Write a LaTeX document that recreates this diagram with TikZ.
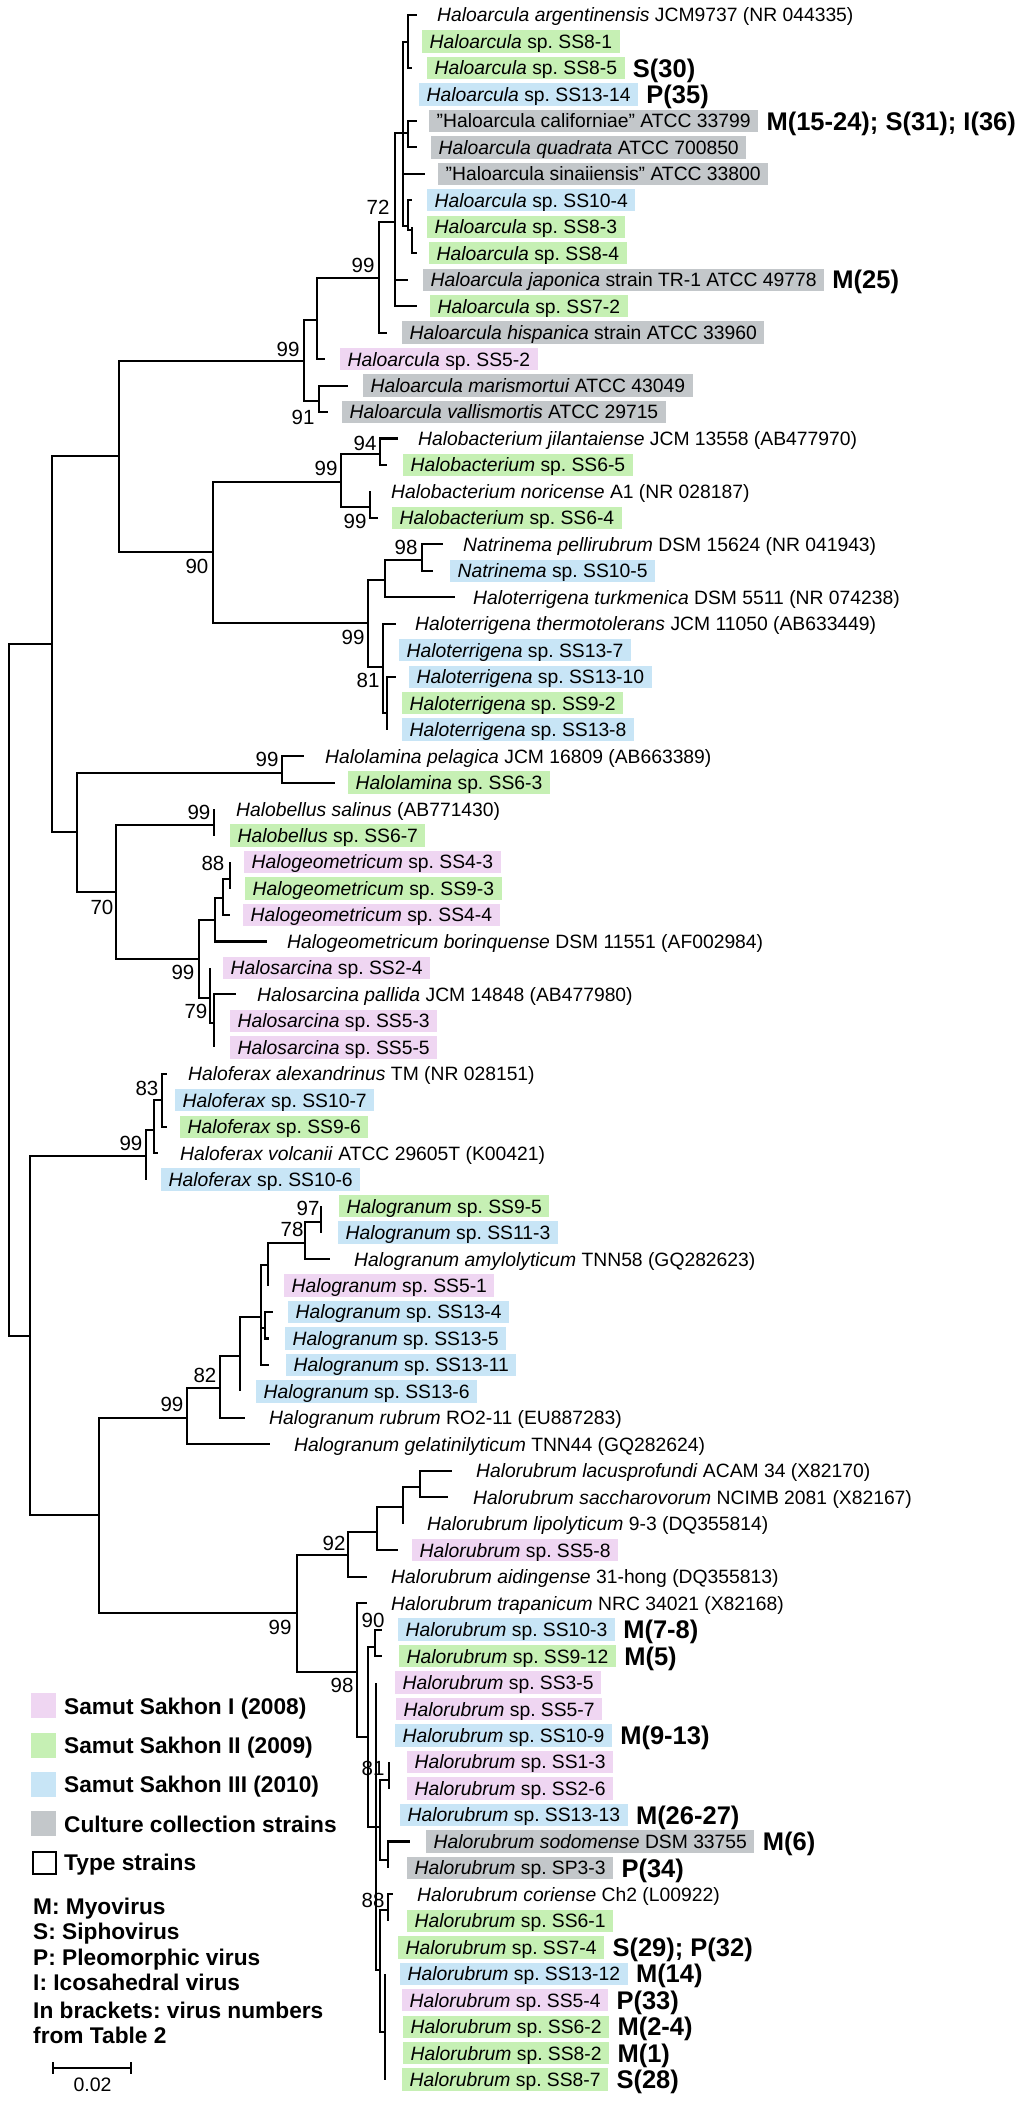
\documentclass[tikz,border=0pt]{standalone}
\usepackage{fontspec}
\setmainfont{Liberation Sans}
\frenchspacing
\definecolor{cpink}{RGB}{239,214,242}
\definecolor{cgreen}{RGB}{198,240,180}
\definecolor{cblue}{RGB}{200,229,246}
\definecolor{cgray}{RGB}{195,199,202}
\newcommand{\Y}[1]{15+26.47*#1}
\tikzset{
  br/.style={line width=2.1pt},
  lab/.style={anchor=west, font=\fontsize{19.3}{20}\selectfont, text height=13.8pt, text depth=0pt, inner ysep=4.3pt, inner xsep=0pt},
  boxlab/.style={lab, inner xsep=7.5pt},
  pnk/.style={boxlab, fill=cpink},
  grn/.style={boxlab, fill=cgreen},
  blu/.style={boxlab, fill=cblue},
  gry/.style={boxlab, fill=cgray},
  pln/.style={lab},
  boot/.style={font=\fontsize{20.5}{21}\selectfont, text height=14.7pt, text depth=0pt, inner sep=0pt},
  vir/.style={anchor=west, font=\bfseries\fontsize{25.5}{26}\selectfont, text height=18.3pt, text depth=0pt, inner sep=0pt},
  leg/.style={anchor=west, font=\bfseries\fontsize{22.7}{23}\selectfont, text height=16.2pt, text depth=0pt, inner sep=0pt},
  keybox/.style={anchor=north west, minimum width=25pt, minimum height=24.5pt, inner sep=0pt},
}
\begin{document}
\begin{tikzpicture}[x=1pt,y=-1pt]
\useasboundingbox (0,0) rectangle (1024,2103);
% ---------- internal nodes ----------
\coordinate (R) at (9,990);
\coordinate (nA) at (52,644);
\coordinate (nB) at (30,1336);
\coordinate (nA1) at (119,456);
\coordinate (nA2) at (77,832);
\coordinate (nHa) at (304,361);
\coordinate (nHa2) at (317,320);
\coordinate (n99a) at (379,278);
\coordinate (n72) at (395,222);
\coordinate (crown) at (403,133);
\coordinate (cT) at (408,42);
\coordinate (cCQ) at (408,133);
\coordinate (c3) at (408,226);
\coordinate (c3b) at (412,230);
\coordinate (n91) at (319,401);
\coordinate (nN90) at (213,552);
\coordinate (nHb) at (341,482);
\coordinate (n94) at (380,454);
\coordinate (n99b) at (370,507);
\coordinate (nT99) at (368,623);
\coordinate (nT1) at (385,580);
\coordinate (n98) at (422,560);
\coordinate (nT81p) at (383,667);
\coordinate (n81) at (387,713);
\coordinate (nLam) at (282,773);
\coordinate (n70) at (116,892);
\coordinate (nBel) at (214,825);
\coordinate (nGeo) at (199,959);
\coordinate (nG1) at (215,920);
\coordinate (nG2) at (223,898);
\coordinate (n88) at (230,879);
\coordinate (n79) at (210,998);
\coordinate (n79b) at (214,1023);
\coordinate (nFer) at (146,1156);
\coordinate (nF2) at (154,1130);
\coordinate (n83) at (162,1100);
\coordinate (nC) at (99,1515);
\coordinate (nGr) at (187,1418);
\coordinate (n82) at (220,1388);
\coordinate (nG3) at (240,1356);
\coordinate (nG4) at (261,1317);
\coordinate (nG5) at (268,1265);
\coordinate (n78) at (305,1243);
\coordinate (n97) at (321,1222);
\coordinate (nG6) at (265,1328);
\coordinate (nRub) at (297,1613);
\coordinate (n92) at (348,1555);
\coordinate (nR1) at (377,1532);
\coordinate (nR2) at (403,1507);
\coordinate (nR3) at (420,1487);
\coordinate (n98r) at (357,1672);
\coordinate (nR4) at (368,1737);
\coordinate (n90r) at (375,1647);
\coordinate (nR6) at (376,1827);
\coordinate (nR5) at (380,1827);
\coordinate (n81r) at (389,1780);
\coordinate (nSod) at (388,1860);
\coordinate (nR7) at (380,1970);
\coordinate (n88r) at (388,1910);
\coordinate (nR8) at (385,2032);
% ---------- tips ----------
\foreach \i/\x in {0/417,1/408,2/412,3/403,4/417,5/417,6/425,7/412,8/412,9/417,10/408,11/417,12/387,13/325,14/348,15/328,16/398,17/387,18/370,19/378,20/443,21/433,22/455,23/396,24/383,25/396,26/387,27/387,28/304,29/335,30/214,31/214,32/230,33/230,34/230,35/267,36/210,37/236,38/214,39/214,40/167,41/162,42/167,43/158,44/146,45/321,46/321,47/330,48/268,49/273,50/269,51/269,52/240,53/245,54/270,55/452,56/448,57/403,58/398,59/367,60/367,61/382,62/382,63/376,64/376,65/376,66/389,67/389,68/380,69/410,70/388,71/393,72/388,73/380,74/385,75/385,76/385,77/385,78/385}
  \coordinate (t\i) at (\x,{\Y{\i}});
% ---------- branches ----------
\foreach \p/\c in {R/nA,R/nB,nA/nA1,nA/nA2,nA1/nHa,nA1/nN90,nHa/nHa2,nHa/n91,nHa2/n99a,nHa2/t13,
  n99a/n72,n99a/t12,n72/crown,n72/t10,n72/t11,crown/cT,crown/t3,crown/cCQ,crown/t6,crown/c3,
  cT/t0,cT/t1,cT/t2,cCQ/t4,cCQ/t5,c3/t7,c3/c3b,c3b/t8,c3b/t9,n91/t14,n91/t15,
  nN90/nHb,nN90/nT99,nHb/n94,nHb/n99b,n94/t16,n94/t17,n99b/t18,n99b/t19,
  nT99/nT1,nT99/nT81p,nT1/n98,nT1/t22,n98/t20,n98/t21,nT81p/t23,nT81p/t24,nT81p/n81,
  n81/t25,n81/t26,n81/t27,nA2/nLam,nA2/n70,nLam/t28,nLam/t29,n70/nBel,n70/nGeo,
  nBel/t30,nBel/t31,nGeo/nG1,nGeo/n79,nG1/nG2,nG1/t35,nG2/n88,nG2/t34,n88/t32,n88/t33,
  n79/t36,n79/n79b,n79b/t37,n79b/t38,n79b/t39,nB/nFer,nB/nC,nFer/nF2,nFer/t44,nF2/n83,nF2/t43,
  n83/t40,n83/t41,n83/t42,nC/nGr,nC/nRub,nGr/n82,nGr/t54,n82/nG3,n82/t53,nG3/nG4,nG3/t52,
  nG4/nG5,nG4/nG6,nG4/t51,nG5/n78,nG5/t48,n78/n97,n78/t47,n97/t45,n97/t46,nG6/t49,nG6/t50,
  nRub/n92,nRub/n98r,n92/nR1,n92/t59,nR1/nR2,nR1/t58,nR2/nR3,nR2/t57,nR3/t55,nR3/t56,
  n98r/t60,n98r/nR4,nR4/n90r,nR4/nR6,n90r/t61,n90r/t62,nR6/t63,nR6/t64,nR6/t65,nR6/nR5,nR6/nR7,
  nR5/n81r,nR5/t68,nR5/nSod,n81r/t66,n81r/t67,nSod/t69,nSod/t70,nR7/n88r,nR7/t73,nR7/nR8,
  n88r/t71,n88r/t72,nR8/t74,nR8/t75,nR8/t76,nR8/t77,nR8/t78}
  \draw[br] (\p) |- (\c);
% ---------- bootstrap values ----------
\node[boot] (b1) at (378,207) {72};
\node[boot] (b2) at (363,265) {99};
\node[boot] (b3) at (288,349) {99};
\node[boot] (b4) at (303,417) {91};
\node[boot] (b5) at (365,443) {94};
\node[boot] (b6) at (326,468) {99};
\node[boot] (b7) at (355,521) {99};
\node[boot] (b8) at (197,566) {90};
\node[boot] (b9) at (406,547) {98};
\node[boot] (b10) at (353,637) {99};
\node[boot] (b11) at (368,680) {81};
\node[boot] (b12) at (267,759) {99};
\node[boot] (b13) at (199,812) {99};
\node[boot] (b14) at (213,863) {88};
\node[boot] (b15) at (102,907) {70};
\node[boot] (b16) at (183,972) {99};
\node[boot] (b17) at (196,1011) {79};
\node[boot] (b18) at (147,1088) {83};
\node[boot] (b19) at (131,1143) {99};
\node[boot] (b20) at (308,1208) {97};
\node[boot] (b21) at (292,1229) {78};
\node[boot] (b22) at (205,1375) {82};
\node[boot] (b23) at (172,1404) {99};
\node[boot] (b24) at (334,1543) {92};
\node[boot] (b25) at (280,1627) {99};
\node[boot] (b26) at (373,1620) {90};
\node[boot] (b27) at (342,1685) {98};
\node[boot] (b28) at (373,1768) {81};
\node[boot] (b29) at (373,1900) {88};
% ---------- taxon labels ----------
\node[pln] (L0) at (437,{\Y{0}}) {\textit{Haloarcula argentinensis} JCM9737 (NR 044335)};
\node[grn] (L1) at (422,{\Y{1}}) {\textit{Haloarcula} sp. SS8-1};
\node[grn] (L2) at (427,{\Y{2}}) {\textit{Haloarcula} sp. SS8-5};
\node[blu] (L3) at (419,{\Y{3}}) {\textit{Haloarcula} sp. SS13-14};
\node[gry] (L4) at (429,{\Y{4}}) {”Haloarcula californiae” ATCC 33799};
\node[gry] (L5) at (431,{\Y{5}}) {\textit{Haloarcula quadrata} ATCC 700850};
\node[gry] (L6) at (438,{\Y{6}}) {”Haloarcula sinaiiensis” ATCC 33800};
\node[blu] (L7) at (427,{\Y{7}}) {\textit{Haloarcula} sp. SS10-4};
\node[grn] (L8) at (427,{\Y{8}}) {\textit{Haloarcula} sp. SS8-3};
\node[grn] (L9) at (429,{\Y{9}}) {\textit{Haloarcula} sp. SS8-4};
\node[gry] (L10) at (423,{\Y{10}}) {\textit{Haloarcula japonica} strain TR-1 ATCC 49778};
\node[grn] (L11) at (430,{\Y{11}}) {\textit{Haloarcula} sp. SS7-2};
\node[gry] (L12) at (402,{\Y{12}}) {\textit{Haloarcula hispanica} strain ATCC 33960};
\node[pnk] (L13) at (340,{\Y{13}}) {\textit{Haloarcula} sp. SS5-2};
\node[gry] (L14) at (363,{\Y{14}}) {\textit{Haloarcula marismortui} ATCC 43049};
\node[gry] (L15) at (342,{\Y{15}}) {\textit{Haloarcula vallismortis} ATCC 29715};
\node[pln] (L16) at (418,{\Y{16}}) {\textit{Halobacterium jilantaiense} JCM 13558 (AB477970)};
\node[grn] (L17) at (403,{\Y{17}}) {\textit{Halobacterium} sp. SS6-5};
\node[pln] (L18) at (391,{\Y{18}}) {\textit{Halobacterium noricense} A1 (NR 028187)};
\node[grn] (L19) at (392,{\Y{19}}) {\textit{Halobacterium} sp. SS6-4};
\node[pln] (L20) at (463,{\Y{20}}) {\textit{Natrinema pellirubrum} DSM 15624 (NR 041943)};
\node[blu] (L21) at (450,{\Y{21}}) {\textit{Natrinema} sp. SS10-5};
\node[pln] (L22) at (473,{\Y{22}}) {\textit{Haloterrigena turkmenica} DSM 5511 (NR 074238)};
\node[pln] (L23) at (415,{\Y{23}}) {\textit{Haloterrigena thermotolerans} JCM 11050 (AB633449)};
\node[blu] (L24) at (399,{\Y{24}}) {\textit{Haloterrigena} sp. SS13-7};
\node[blu] (L25) at (409,{\Y{25}}) {\textit{Haloterrigena} sp. SS13-10};
\node[grn] (L26) at (402,{\Y{26}}) {\textit{Haloterrigena} sp. SS9-2};
\node[blu] (L27) at (402,{\Y{27}}) {\textit{Haloterrigena} sp. SS13-8};
\node[pln] (L28) at (325,{\Y{28}}) {\textit{Halolamina pelagica} JCM 16809 (AB663389)};
\node[grn] (L29) at (348,{\Y{29}}) {\textit{Halolamina} sp. SS6-3};
\node[pln] (L30) at (236,{\Y{30}}) {\textit{Halobellus salinus} (AB771430)};
\node[grn] (L31) at (230,{\Y{31}}) {\textit{Halobellus} sp. SS6-7};
\node[pnk] (L32) at (244,{\Y{32}}) {\textit{Halogeometricum} sp. SS4-3};
\node[grn] (L33) at (245,{\Y{33}}) {\textit{Halogeometricum} sp. SS9-3};
\node[pnk] (L34) at (243,{\Y{34}}) {\textit{Halogeometricum} sp. SS4-4};
\node[pln] (L35) at (287,{\Y{35}}) {\textit{Halogeometricum borinquense} DSM 11551 (AF002984)};
\node[pnk] (L36) at (223,{\Y{36}}) {\textit{Halosarcina} sp. SS2-4};
\node[pln] (L37) at (257,{\Y{37}}) {\textit{Halosarcina pallida} JCM 14848 (AB477980)};
\node[pnk] (L38) at (230,{\Y{38}}) {\textit{Halosarcina} sp. SS5-3};
\node[pnk] (L39) at (230,{\Y{39}}) {\textit{Halosarcina} sp. SS5-5};
\node[pln] (L40) at (188,{\Y{40}}) {\textit{Haloferax alexandrinus} TM (NR 028151)};
\node[blu] (L41) at (175,{\Y{41}}) {\textit{Haloferax} sp. SS10-7};
\node[grn] (L42) at (180,{\Y{42}}) {\textit{Haloferax} sp. SS9-6};
\node[pln] (L43) at (180,{\Y{43}}) {\textit{Haloferax volcanii} ATCC 29605T (K00421)};
\node[blu] (L44) at (161,{\Y{44}}) {\textit{Haloferax} sp. SS10-6};
\node[grn] (L45) at (339,{\Y{45}}) {\textit{Halogranum} sp. SS9-5};
\node[blu] (L46) at (338,{\Y{46}}) {\textit{Halogranum} sp. SS11-3};
\node[pln] (L47) at (354,{\Y{47}}) {\textit{Halogranum amylolyticum} TNN58 (GQ282623)};
\node[pnk] (L48) at (284,{\Y{48}}) {\textit{Halogranum} sp. SS5-1};
\node[blu] (L49) at (288,{\Y{49}}) {\textit{Halogranum} sp. SS13-4};
\node[blu] (L50) at (285,{\Y{50}}) {\textit{Halogranum} sp. SS13-5};
\node[blu] (L51) at (286,{\Y{51}}) {\textit{Halogranum} sp. SS13-11};
\node[blu] (L52) at (256,{\Y{52}}) {\textit{Halogranum} sp. SS13-6};
\node[pln] (L53) at (269,{\Y{53}}) {\textit{Halogranum rubrum} RO2-11 (EU887283)};
\node[pln] (L54) at (294,{\Y{54}}) {\textit{Halogranum gelatinilyticum} TNN44 (GQ282624)};
\node[pln] (L55) at (476,{\Y{55}}) {\textit{Halorubrum lacusprofundi} ACAM 34 (X82170)};
\node[pln] (L56) at (473,{\Y{56}}) {\textit{Halorubrum saccharovorum} NCIMB 2081 (X82167)};
\node[pln] (L57) at (427,{\Y{57}}) {\textit{Halorubrum lipolyticum} 9-3 (DQ355814)};
\node[pnk] (L58) at (412,{\Y{58}}) {\textit{Halorubrum} sp. SS5-8};
\node[pln] (L59) at (391,{\Y{59}}) {\textit{Halorubrum aidingense} 31-hong (DQ355813)};
\node[pln] (L60) at (391,{\Y{60}}) {\textit{Halorubrum trapanicum} NRC 34021 (X82168)};
\node[blu] (L61) at (398,{\Y{61}}) {\textit{Halorubrum} sp. SS10-3};
\node[grn] (L62) at (399,{\Y{62}}) {\textit{Halorubrum} sp. SS9-12};
\node[pnk] (L63) at (395,{\Y{63}}) {\textit{Halorubrum} sp. SS3-5};
\node[pnk] (L64) at (396,{\Y{64}}) {\textit{Halorubrum} sp. SS5-7};
\node[blu] (L65) at (395,{\Y{65}}) {\textit{Halorubrum} sp. SS10-9};
\node[pnk] (L66) at (407,{\Y{66}}) {\textit{Halorubrum} sp. SS1-3};
\node[pnk] (L67) at (407,{\Y{67}}) {\textit{Halorubrum} sp. SS2-6};
\node[blu] (L68) at (400,{\Y{68}}) {\textit{Halorubrum} sp. SS13-13};
\node[gry] (L69) at (426,{\Y{69}}) {\textit{Halorubrum sodomense} DSM 33755};
\node[gry] (L70) at (407,{\Y{70}}) {\textit{Halorubrum} sp. SP3-3};
\node[pln] (L71) at (417,{\Y{71}}) {\textit{Halorubrum coriense} Ch2 (L00922)};
\node[grn] (L72) at (407,{\Y{72}}) {\textit{Halorubrum} sp. SS6-1};
\node[grn] (L73) at (398,{\Y{73}}) {\textit{Halorubrum} sp. SS7-4};
\node[blu] (L74) at (400,{\Y{74}}) {\textit{Halorubrum} sp. SS13-12};
\node[pnk] (L75) at (402,{\Y{75}}) {\textit{Halorubrum} sp. SS5-4};
\node[grn] (L76) at (403,{\Y{76}}) {\textit{Halorubrum} sp. SS6-2};
\node[grn] (L77) at (403,{\Y{77}}) {\textit{Halorubrum} sp. SS8-2};
\node[grn] (L78) at (402,{\Y{78}}) {\textit{Halorubrum} sp. SS8-7};
% ---------- virus annotations ----------
\node[vir] (V2) at ([xshift=8pt]L2.east) {S(30)};
\node[vir] (V3) at ([xshift=8pt]L3.east) {P(35)};
\node[vir] (V4) at ([xshift=8pt]L4.east) {M(15-24); S(31); I(36)};
\node[vir] (V10) at ([xshift=8pt]L10.east) {M(25)};
\node[vir] (V61) at ([xshift=8pt]L61.east) {M(7-8)};
\node[vir] (V62) at ([xshift=8pt]L62.east) {M(5)};
\node[vir] (V65) at ([xshift=8pt]L65.east) {M(9-13)};
\node[vir] (V68) at ([xshift=8pt]L68.east) {M(26-27)};
\node[vir] (V69) at ([xshift=8pt]L69.east) {M(6)};
\node[vir] (V70) at ([xshift=8pt]L70.east) {P(34)};
\node[vir] (V73) at ([xshift=8pt]L73.east) {S(29); P(32)};
\node[vir] (V74) at ([xshift=8pt]L74.east) {M(14)};
\node[vir] (V75) at ([xshift=8pt]L75.east) {P(33)};
\node[vir] (V76) at ([xshift=8pt]L76.east) {M(2-4)};
\node[vir] (V77) at ([xshift=8pt]L77.east) {M(1)};
\node[vir] (V78) at ([xshift=8pt]L78.east) {S(28)};
% ---------- legend ----------
\node[keybox, fill=cpink] (k1) at (31,1693) {};
\node[keybox, fill=cgreen] (k2) at (31,1733) {};
\node[keybox, fill=cblue] (k3) at (31,1772) {};
\node[keybox, fill=cgray] (k4) at (31,1811) {};
\node[keybox, draw=black, line width=1.8pt, minimum width=23pt, minimum height=22pt] (k5) at (32,1851) {};
\node[leg] (kt1) at (64,1706) {Samut Sakhon I (2008)};
\node[leg] (kt2) at (64,1745) {Samut Sakhon II (2009)};
\node[leg] (kt3) at (64,1784) {Samut Sakhon III (2010)};
\node[leg] (kt4) at (64,1824) {Culture collection strains};
\node[leg] (kt5) at (64,1862) {Type strains};
\node[leg] (m1) at (33,1906) {M: Myovirus};
\node[leg] (m2) at (33,1931) {S: Siphovirus};
\node[leg] (m3) at (33,1957) {P: Pleomorphic virus};
\node[leg] (m4) at (33,1982) {I: Icosahedral virus};
\node[leg] (m5) at (33,2010) {In brackets: virus numbers};
\node[leg] (m6) at (33,2035) {from Table 2};
% ---------- scale bar ----------
\coordinate (sb1) at (53,2068);
\coordinate (sb2) at (131,2068);
\coordinate (sb1a) at (53,2062);
\coordinate (sb1b) at (53,2074);
\coordinate (sb2a) at (131,2062);
\coordinate (sb2b) at (131,2074);
\draw[line width=1.8pt] (sb1) -- (sb2);
\draw[line width=1.8pt] (sb1a) -- (sb1b);
\draw[line width=1.8pt] (sb2a) -- (sb2b);
\node[font=\fontsize{19.5}{20}\selectfont, text height=13.9pt, text depth=0pt, inner sep=0pt] (sbl) at (92.5,2085) {0.02};
\end{tikzpicture}
\end{document}
